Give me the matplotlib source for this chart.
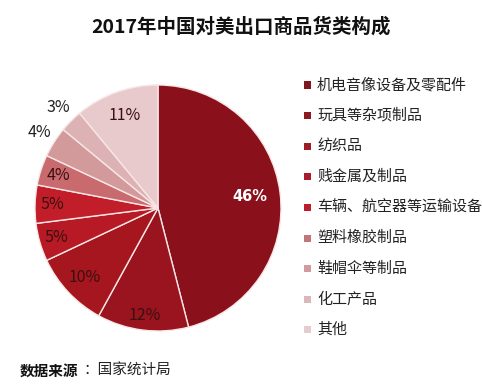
import matplotlib
matplotlib.use("Agg")
import matplotlib.pyplot as plt
from matplotlib.patches import Rectangle
import numpy as np

plt.rcParams['font.family'] = ['Noto Sans CJK SC', 'DejaVu Sans']

title = "2017年中国对美出口商品货类构成"
categories = ["机电音像设备及零配件", "玩具等杂项制品", "纺织品", "贱金属及制品",
              "车辆、航空器等运输设备", "塑料橡胶制品", "鞋帽伞等制品", "化工产品", "其他"]
values = [46, 12, 10, 5, 5, 4, 4, 3, 11]
pct_labels = ["46%", "12%", "10%", "5%", "5%", "4%", "4%", "3%", "11%"]
colors = ["#8A111C", "#9A1420", "#A6161F", "#B71A25", "#C21E2A",
          "#C86A6E", "#D39A9C", "#DDB2B5", "#E8CACC"]
legend_colors = ["#801822", "#8C1A22", "#9C1D25", "#AA1C29", "#BD1E2D",
                 "#C4757A", "#CF9B9E", "#D9B7BB", "#E3CDD1"]
label_r = [0.75, 0.88, 0.82, 0.86, 0.86, 0.85, 1.14, 1.15, 0.80]
label_colors = ["white", "#3A1010", "#3A1010", "#3A1010", "#3A1010",
                "#3A1010", "#222222", "#222222", "#3A1010"]
source_bold = "数据来源"
source_rest = "：国家统计局"

W, H = 482, 390
fig = plt.figure(figsize=(W / 100, H / 100), dpi=100)

cx, cy, R = 158, 208, 123
half = 1.25 * R
ax = fig.add_axes([(cx - half) / W, (H - cy - half) / H, 2 * half / W, 2 * half / H])
wedges, _ = ax.pie(values, colors=colors, startangle=90, counterclock=False,
                   radius=1.0, wedgeprops=dict(edgecolor="#F8E6E6", linewidth=1.0))
ax.set_xlim(-1.25, 1.25)
ax.set_ylim(-1.25, 1.25)
ax.set_aspect("equal")
ax.axis("off")

for w, lab, r, c in zip(wedges, pct_labels, label_r, label_colors):
    ang = np.deg2rad((w.theta1 + w.theta2) / 2)
    x, y = r * np.cos(ang), r * np.sin(ang)
    bold = (c == "white")
    ax.text(x, y, lab, ha="center", va="center", fontsize=10.5 if bold else 11.5,
            color=c, fontweight="bold" if bold else "normal",
            family=['DejaVu Sans'] if bold else ['Noto Sans CJK SC', 'DejaVu Sans'])

# title
fig.text(241 / W, 1 - 27 / H, title, ha="center", va="center", fontsize=14,
         fontweight="bold", color="#111111")

# legend
y0, step = 85, 30.6
for i, (cat, col) in enumerate(zip(categories, legend_colors)):
    yy = y0 + i * step
    fig.patches.append(Rectangle(((304) / W, 1 - (yy + 3.5) / H), 7 / W, 7 / H,
                                 transform=fig.transFigure, facecolor=col,
                                 edgecolor="none"))
    fig.text(317 / W, 1 - yy / H, cat, ha="left", va="center", fontsize=10.8,
             color="#222222")

# source
fig.text(20 / W, 1 - 371 / H, source_bold, ha="left", va="center", fontsize=10.5,
         fontweight="bold", color="#111111")
fig.text(83 / W, 1 - 371 / H, source_rest, ha="left", va="center", fontsize=10.5,
         color="#222222")

fig.savefig("out.png", dpi=100, facecolor="white")
